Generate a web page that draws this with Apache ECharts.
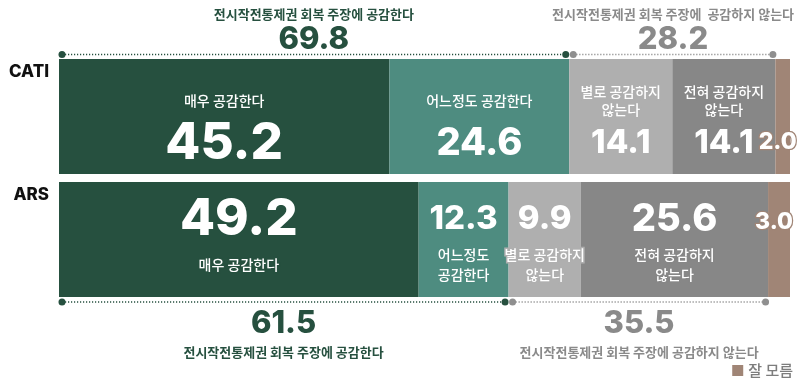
<!DOCTYPE html>
<html>
<head>
<meta charset="utf-8">
<script src="https://cdn.jsdelivr.net/npm/echarts@6/dist/echarts.min.js"></script>
<style>html,body{margin:0;padding:0;background:#fff}#c{width:800px;height:381px}</style>
</head>
<body>
<div id="c"></div>
<script>
const categories = ['CATI', 'ARS'];
const seriesNames = ['매우 공감한다', '어느정도 공감한다', '별로 공감하지 않는다', '전혀 공감하지 않는다', '잘 모름'];
const veryAgree = [45.2, 49.2];
const somewhatAgree = [24.6, 12.3];
const notMuch = [14.1, 9.9];
const notAtAll = [14.1, 25.6];
const dontKnow = [2.0, 3.0];
const agreeTotal = [69.8, 61.5];
const disagreeTotal = [28.2, 35.5];
const segmentTextCATI = ['매우 공감한다', '어느정도 공감한다', '별로 공감하지\n않는다', '전혀 공감하지\n않는다', ''];
const segmentTextARS = ['매우 공감한다', '어느정도\n공감한다', '별로 공감하지\n않는다', '전혀 공감하지\n않는다', ''];
const agreeCaption = '전시작전통제권 회복 주장에 공감한다';
const disagreeCaptionTop = '전시작전통제권 회복 주장에  공감하지 않는다';
const disagreeCaptionBottom = '전시작전통제권 회복 주장에 공감하지 않는다';

const colors = ['#26503f', '#4e8c80', '#afafaf', '#878787', '#a08576'];
const green = '#26503f', gray = '#8a8a8a';
const KR = '"Noto Sans CJK KR", "Noto Sans", sans-serif';
const NUM = 'Inter, "Noto Sans CJK KR", sans-serif';
const BAR_W = 115;

const seriesValues = [veryAgree, somewhatAgree, notMuch, notAtAll, dontKnow];

function numSize(v) { return v >= 40 ? 51 : v >= 20 ? 38 : v >= 9 ? 33 : 23; }

function makeLabel(row, s, v) {
  const col = colors[s];
  const val = v.toFixed(1);
  if (s === 4) {
    return {
      show: true, position: 'inside', formatter: val, color: '#fff',
      fontSize: 23, fontWeight: 800, fontFamily: NUM,
      textBorderColor: col, textBorderWidth: 2.5,
      offset: [-5, row === 0 ? 26 : -17]
    };
  }
  const lines = (row === 0 ? segmentTextCATI : segmentTextARS)[s].split('\n');
  const nameStyle = (lh) => ({ fontSize: 14, lineHeight: lh, color: '#fff', fontFamily: KR, fontWeight: 500, textBorderColor: col, textBorderWidth: 3 });
  const rich = {
    v: { fontSize: numSize(v), lineHeight: 50, color: '#fff', fontFamily: NUM, fontWeight: 800, textBorderColor: col, textBorderWidth: 1.5 },
    n1: nameStyle(36), n: nameStyle(18), m1: nameStyle(40), m: nameStyle(20)
  };
  let fmt;
  if (row === 0) {
    fmt = (lines.length === 1 ? '{n1|' + lines[0] + '}' : lines.map(l => '{n|' + l + '}').join('\n')) + '\n{v|' + val + '}';
  } else {
    fmt = '{v|' + val + '}\n' + (lines.length === 1 ? '{m1|' + lines[0] + '}' : lines.map(l => '{m|' + l + '}').join('\n'));
  }
  return { show: true, position: 'inside', formatter: fmt, rich: rich, offset: [0, row === 0 ? 9 : 0] };
}

const barSeries = seriesNames.map((name, s) => ({
  name: name, type: 'bar', stack: 'total', barWidth: BAR_W,
  itemStyle: { color: colors[s] },
  data: seriesValues[s].map((v, row) => ({ value: v, label: makeLabel(row, s, v) }))
}));

// bracket data: [rowIndex, start, end, kind, total]
const bracketData = [];
categories.forEach((c, row) => {
  bracketData.push([row, 0, agreeTotal[row], 0, agreeTotal[row]]);
  bracketData.push([row, agreeTotal[row], agreeTotal[row] + disagreeTotal[row], 1, disagreeTotal[row]]);
});

const bracketSeries = {
  type: 'custom', name: 'bracket', silent: true, clip: false, z: 5,
  encode: { x: [1, 2], y: 0 },
  data: bracketData,
  renderItem: function (params, api) {
    const row = api.value(0), s = api.value(1), e = api.value(2), kind = api.value(3), total = api.value(4);
    const a = api.coord([s, row]), b = api.coord([e, row]);
    const top = row === 0;
    const half = BAR_W / 2;
    const y = top ? a[1] - half - 4.5 : a[1] + half + 5;
    const x0 = a[0] + (kind === 0 ? 3 : 4);
    const x1 = b[0] - (kind === 0 ? 3.5 : 2.5);
    const col = kind === 0 ? green : gray;
    const dotCol = kind === 0 ? green : '#8f8f8f';
    const cx = (x0 + x1) / 2;
    const numY = top ? y - 15 : y + 22;
    const capY = top ? y - 40.5 : y + 50;
    const cap = kind === 0 ? agreeCaption : (top ? disagreeCaptionTop : disagreeCaptionBottom);
    return {
      type: 'group',
      children: [
        { type: 'line', shape: { x1: x0, y1: y, x2: x1, y2: y }, style: { stroke: dotCol, lineWidth: 1.6, lineDash: [1.2, 1.8] } },
        { type: 'circle', shape: { cx: x0, cy: y, r: 3.5 }, style: { fill: dotCol } },
        { type: 'circle', shape: { cx: x1, cy: y, r: 3.5 }, style: { fill: dotCol } },
        { type: 'text', style: { text: total.toFixed(1), x: cx, y: numY, align: 'center', verticalAlign: 'middle', fontSize: 31, fontWeight: 800, fontFamily: NUM, fill: col } },
        { type: 'text', style: { text: cap, x: cx, y: capY, align: 'center', verticalAlign: 'middle', fontSize: 13, fontWeight: 700, fontFamily: KR, fill: col } }
      ]
    };
  }
};

const chart = echarts.init(document.getElementById('c'));
chart.setOption({
  animation: false,
  grid: { left: 59, right: 10, top: 55, bottom: 80 },
  legend: {
    data: ['잘 모름'], right: 7, bottom: 3, padding: 0, icon: 'rect',
    itemWidth: 11, itemHeight: 11, itemGap: 3, selectedMode: false,
    textStyle: { fontSize: 15, fontWeight: 500, color: '#7d7d7d', fontFamily: KR }
  },
  xAxis: { type: 'value', min: 0, max: 100, show: false },
  yAxis: {
    type: 'category', data: categories, inverse: true,
    axisLine: { show: false }, axisTick: { show: false },
    axisLabel: {
      margin: 10,
      formatter: function (v) { return '{a|' + v + '}\n{b|}'; },
      rich: {
        a: { color: '#111', fontSize: 17, fontWeight: 800, lineHeight: 20, fontFamily: 'Inter, "Liberation Sans", sans-serif', align: 'right' },
        b: { lineHeight: 90, align: 'right' }
      }
    }
  },
  series: barSeries.concat([bracketSeries])
});
</script>
</body>
</html>
